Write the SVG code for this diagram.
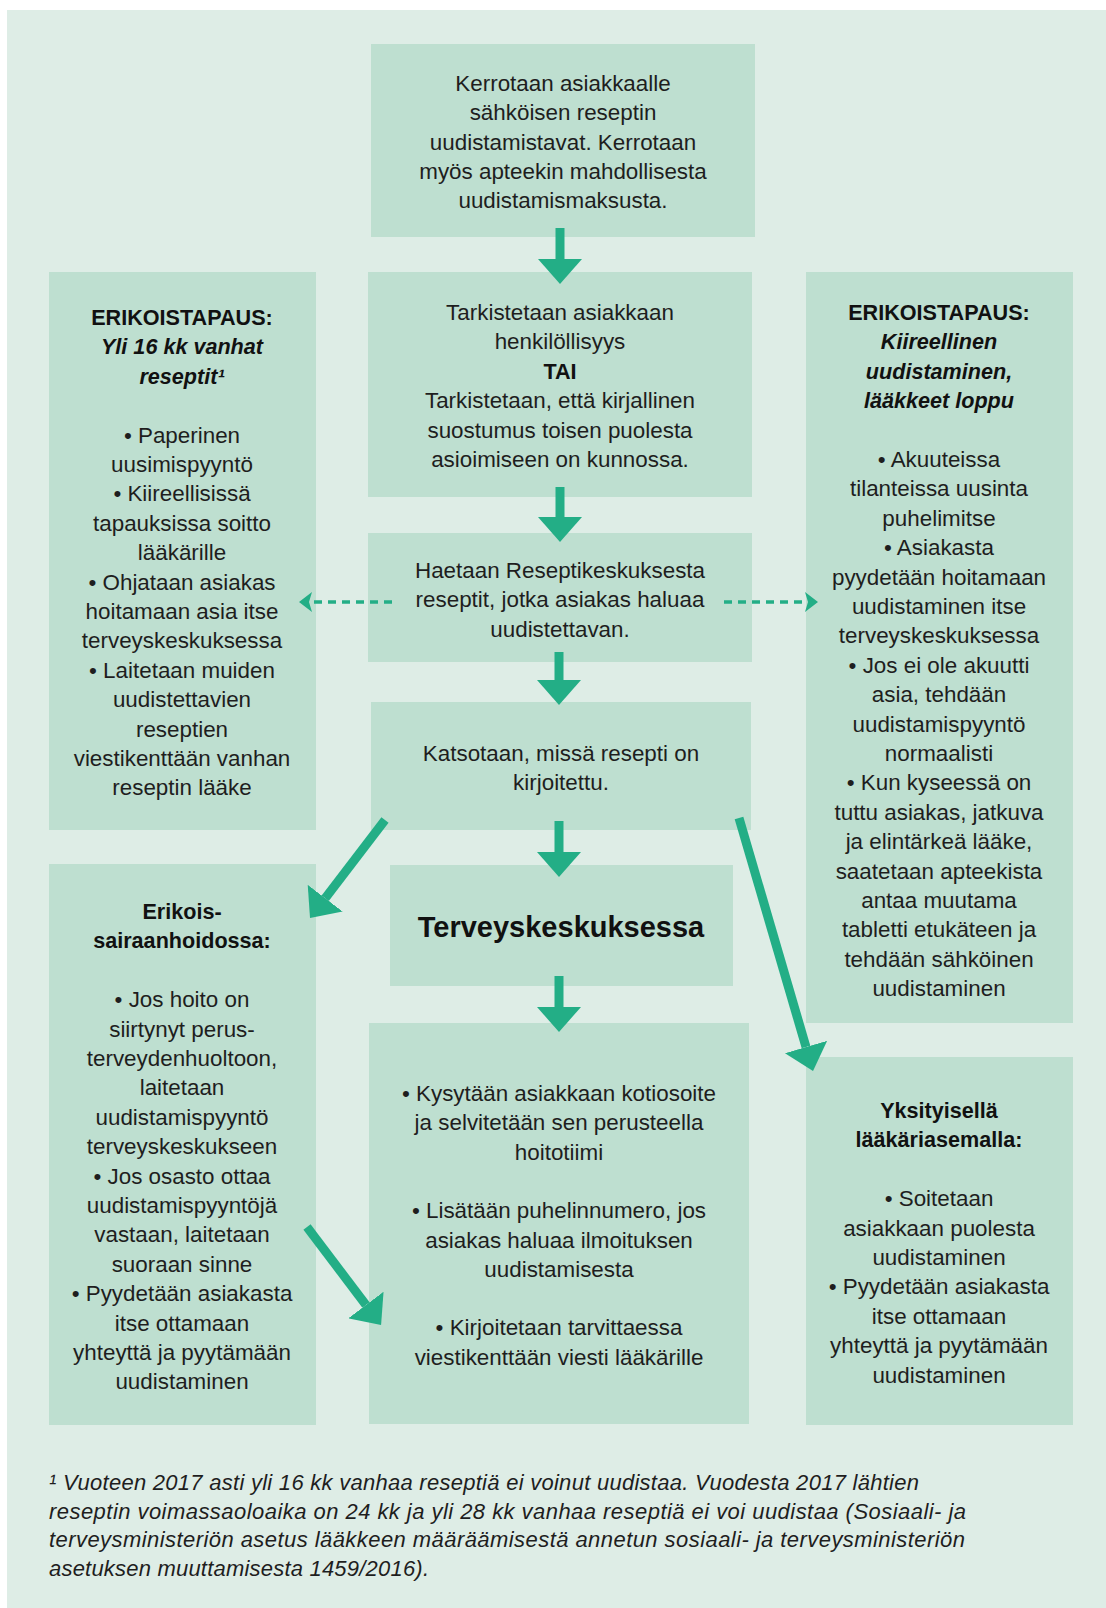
<svg xmlns="http://www.w3.org/2000/svg" width="1106" height="1608" viewBox="0 0 1106 1608">
<defs>
<style>
.box{fill:#bedfd0}
.t{font-family:"Liberation Sans",Arial,sans-serif;font-size:22.4px;fill:#1e1e1e;text-anchor:middle}
.b{font-weight:bold;font-size:21.6px;fill:#111}
.bi{font-weight:bold;font-style:italic;font-size:21.6px;fill:#111}
.big{font-weight:bold;font-size:29px;fill:#111}
.fn{font-family:"Liberation Sans",Arial,sans-serif;font-size:22px;font-style:italic;fill:#1e1e1e}
.arr{stroke:#23ae86;stroke-width:9;fill:none}
.dash{stroke:#23ae86;stroke-width:3.5;stroke-dasharray:8 6;fill:none}
</style>
<marker id="head" markerUnits="userSpaceOnUse" markerWidth="26" markerHeight="44" refX="0" refY="22" orient="auto" viewBox="0 0 26 44">
<path d="M0,0 L25,22 L0,44 Z" fill="#23ae86"/>
</marker>
<marker id="dhead" markerUnits="userSpaceOnUse" markerWidth="14" markerHeight="20" refX="2" refY="10" orient="auto" viewBox="0 0 14 20">
<path d="M0,0 L13,10 L0,20 L3,10 Z" fill="#23ae86"/>
</marker>
</defs>
<rect x="0" y="0" width="1106" height="1608" fill="#ffffff"/>
<rect x="7" y="10" width="1099" height="1598" fill="#deede6"/>

<g id="n-top">
<rect class="box" x="371" y="44" width="384" height="193"/>
<text class="t"><tspan x="563" y="91">Kerrotaan asiakkaalle</tspan><tspan x="563" y="120.3">sähköisen reseptin</tspan><tspan x="563" y="149.6">uudistamistavat. Kerrotaan</tspan><tspan x="563" y="178.9">myös apteekin mahdollisesta</tspan><tspan x="563" y="208.2">uudistamismaksusta.</tspan></text>
</g>

<g id="n-left1">
<rect class="box" x="49" y="272" width="267" height="558"/>
<text class="t"><tspan x="182" y="325" class="b">ERIKOISTAPAUS:</tspan><tspan x="182" y="354.4" class="bi">Yli 16 kk vanhat</tspan><tspan x="182" y="383.8" class="bi">reseptit¹</tspan><tspan x="182" y="442.6">• Paperinen</tspan><tspan x="182" y="472">uusimispyyntö</tspan><tspan x="182" y="501.4">• Kiireellisissä</tspan><tspan x="182" y="530.8">tapauksissa soitto</tspan><tspan x="182" y="560.2">lääkärille</tspan><tspan x="182" y="589.6">• Ohjataan asiakas</tspan><tspan x="182" y="619">hoitamaan asia itse</tspan><tspan x="182" y="648.4">terveyskeskuksessa</tspan><tspan x="182" y="677.8">• Laitetaan muiden</tspan><tspan x="182" y="707.2">uudistettavien</tspan><tspan x="182" y="736.6">reseptien</tspan><tspan x="182" y="766">viestikenttään vanhan</tspan><tspan x="182" y="795.4">reseptin lääke</tspan></text>
</g>

<g id="n-check">
<rect class="box" x="368" y="272" width="384" height="225"/>
<text class="t"><tspan x="560" y="320">Tarkistetaan asiakkaan</tspan><tspan x="560" y="349.4">henkilöllisyys</tspan><tspan x="560" y="378.8" class="b">TAI</tspan><tspan x="560" y="408.2">Tarkistetaan, että kirjallinen</tspan><tspan x="560" y="437.6">suostumus toisen puolesta</tspan><tspan x="560" y="467">asioimiseen on kunnossa.</tspan></text>
</g>

<g id="n-right1">
<rect class="box" x="806" y="272" width="267" height="751"/>
<text class="t"><tspan x="939" y="320" class="b">ERIKOISTAPAUS:</tspan><tspan x="939" y="349.4" class="bi">Kiireellinen</tspan><tspan x="939" y="378.8" class="bi">uudistaminen,</tspan><tspan x="939" y="408.2" class="bi">lääkkeet loppu</tspan><tspan x="939" y="467">• Akuuteissa</tspan><tspan x="939" y="496.4">tilanteissa uusinta</tspan><tspan x="939" y="525.8">puhelimitse</tspan><tspan x="939" y="555.2">• Asiakasta</tspan><tspan x="939" y="584.6">pyydetään hoitamaan</tspan><tspan x="939" y="614">uudistaminen itse</tspan><tspan x="939" y="643.4">terveyskeskuksessa</tspan><tspan x="939" y="672.8">• Jos ei ole akuutti</tspan><tspan x="939" y="702.2">asia, tehdään</tspan><tspan x="939" y="731.6">uudistamispyyntö</tspan><tspan x="939" y="761">normaalisti</tspan><tspan x="939" y="790.4">• Kun kyseessä on</tspan><tspan x="939" y="819.8">tuttu asiakas, jatkuva</tspan><tspan x="939" y="849.2">ja elintärkeä lääke,</tspan><tspan x="939" y="878.6">saatetaan apteekista</tspan><tspan x="939" y="908">antaa muutama</tspan><tspan x="939" y="937.4">tabletti etukäteen ja</tspan><tspan x="939" y="966.8">tehdään sähköinen</tspan><tspan x="939" y="996.2">uudistaminen</tspan></text>
</g>

<g id="n-fetch">
<rect class="box" x="368" y="533" width="384" height="129"/>
<text class="t"><tspan x="560" y="578">Haetaan Reseptikeskuksesta</tspan><tspan x="560" y="607.4">reseptit, jotka asiakas haluaa</tspan><tspan x="560" y="636.8">uudistettavan.</tspan></text>
</g>

<g id="n-where">
<rect class="box" x="371" y="702" width="380" height="128"/>
<text class="t"><tspan x="561" y="761">Katsotaan, missä resepti on</tspan><tspan x="561" y="790.4">kirjoitettu.</tspan></text>
</g>

<g id="n-left2">
<rect class="box" x="49" y="864" width="267" height="561"/>
<text class="t"><tspan x="182" y="919" class="b">Erikois-</tspan><tspan x="182" y="948.4" class="b">sairaanhoidossa:</tspan><tspan x="182" y="1007.2">• Jos hoito on</tspan><tspan x="182" y="1036.6">siirtynyt perus-</tspan><tspan x="182" y="1066">terveydenhuoltoon,</tspan><tspan x="182" y="1095.4">laitetaan</tspan><tspan x="182" y="1124.8">uudistamispyyntö</tspan><tspan x="182" y="1154.2">terveyskeskukseen</tspan><tspan x="182" y="1183.6">• Jos osasto ottaa</tspan><tspan x="182" y="1213">uudistamispyyntöjä</tspan><tspan x="182" y="1242.4">vastaan, laitetaan</tspan><tspan x="182" y="1271.8">suoraan sinne</tspan><tspan x="182" y="1301.2">• Pyydetään asiakasta</tspan><tspan x="182" y="1330.6">itse ottamaan</tspan><tspan x="182" y="1360">yhteyttä ja pyytämään</tspan><tspan x="182" y="1389.4">uudistaminen</tspan></text>
</g>

<g id="n-tk">
<rect class="box" x="390" y="865" width="343" height="121"/>
<text class="t big" x="561" y="937">Terveyskeskuksessa</text>
</g>

<g id="n-tk-steps">
<rect class="box" x="369" y="1023" width="380" height="401"/>
<text class="t"><tspan x="559" y="1101">• Kysytään asiakkaan kotiosoite</tspan><tspan x="559" y="1130.3">ja selvitetään sen perusteella</tspan><tspan x="559" y="1159.6">hoitotiimi</tspan><tspan x="559" y="1218.2">• Lisätään puhelinnumero, jos</tspan><tspan x="559" y="1247.5">asiakas haluaa ilmoituksen</tspan><tspan x="559" y="1276.8">uudistamisesta</tspan><tspan x="559" y="1335.4">• Kirjoitetaan tarvittaessa</tspan><tspan x="559" y="1364.7">viestikenttään viesti lääkärille</tspan></text>
</g>

<g id="n-right2">
<rect class="box" x="806" y="1057" width="267" height="368"/>
<text class="t"><tspan x="939" y="1118" class="b">Yksityisellä</tspan><tspan x="939" y="1147.4" class="b">lääkäriasemalla:</tspan><tspan x="939" y="1206.2">• Soitetaan</tspan><tspan x="939" y="1235.6">asiakkaan puolesta</tspan><tspan x="939" y="1265">uudistaminen</tspan><tspan x="939" y="1294.4">• Pyydetään asiakasta</tspan><tspan x="939" y="1323.8">itse ottamaan</tspan><tspan x="939" y="1353.2">yhteyttä ja pyytämään</tspan><tspan x="939" y="1382.6">uudistaminen</tspan></text>
</g>

<g id="connectors">
<line class="arr" x1="560" y1="228" x2="560" y2="259" marker-end="url(#head)"/>
<line class="arr" x1="560" y1="487" x2="560" y2="517" marker-end="url(#head)"/>
<line class="arr" x1="559" y1="652" x2="559" y2="680" marker-end="url(#head)"/>
<line class="arr" x1="559" y1="821" x2="559" y2="852" marker-end="url(#head)"/>
<line class="arr" x1="559" y1="976" x2="559" y2="1007" marker-end="url(#head)"/>
<line class="arr" x1="385" y1="820" x2="325.2" y2="898.2" marker-end="url(#head)"/>
<line class="arr" x1="739" y1="818" x2="806" y2="1047" marker-end="url(#head)"/>
<line class="arr" x1="307" y1="1227" x2="366" y2="1305" marker-end="url(#head)"/>
<line class="dash" x1="392" y1="602" x2="310" y2="602" marker-end="url(#dhead)"/>
<line class="dash" x1="724" y1="602" x2="807" y2="602" marker-end="url(#dhead)"/>
</g>

<g id="footnote">
<text class="fn"><tspan x="49" y="1490" textLength="870" lengthAdjust="spacing">¹ Vuoteen 2017 asti yli 16 kk vanhaa reseptiä ei voinut uudistaa. Vuodesta 2017 lähtien</tspan><tspan x="49" y="1518.7" textLength="917" lengthAdjust="spacing">reseptin voimassaoloaika on 24 kk ja yli 28 kk vanhaa reseptiä ei voi uudistaa (Sosiaali- ja</tspan><tspan x="49" y="1547.4" textLength="916" lengthAdjust="spacing">terveysministeriön asetus lääkkeen määräämisestä annetun sosiaali- ja terveysministeriön</tspan><tspan x="49" y="1576.1" textLength="380" lengthAdjust="spacing">asetuksen muuttamisesta 1459/2016).</tspan></text>
</g>
</svg>
